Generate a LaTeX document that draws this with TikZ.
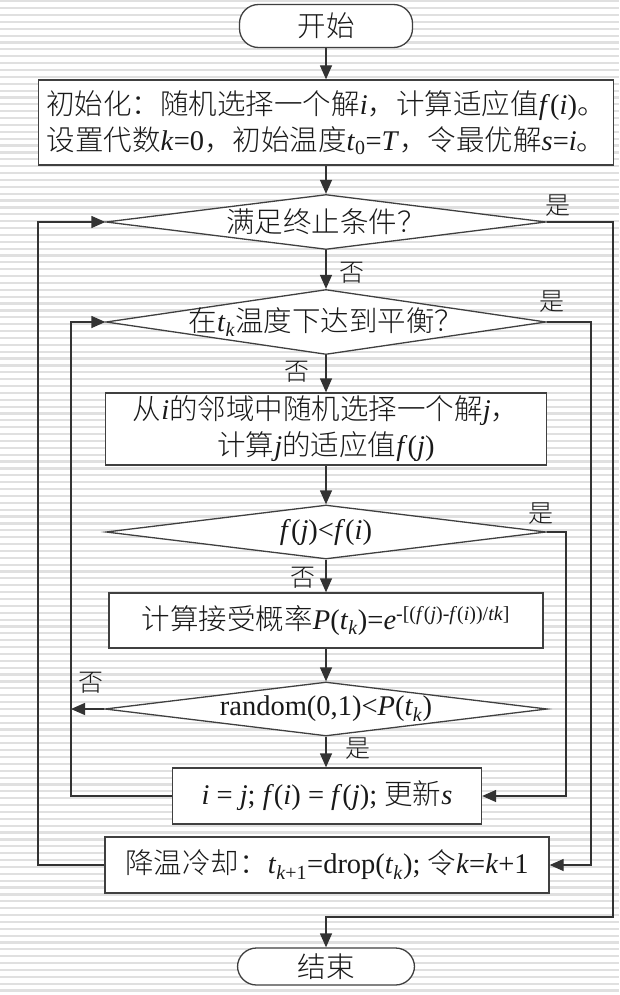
\documentclass[tikz,border=0pt]{standalone}
\usepackage{fontspec}
\setmainfont{Liberation Serif}
\newfontfamily\zhfont{Noto Sans CJK SC}[UprightFont=* Light]
\newcommand{\zh}[1]{{\zhfont #1}}
\newcommand{\vi}[1]{\textit{#1}}
\usetikzlibrary{shapes.geometric,arrows.meta,calc}
\begin{document}
\begin{tikzpicture}[x=1pt,y=-1pt,
  line/.style={draw=black!80, line width=1.3pt},
  arr/.style={line, -{Triangle[length=14pt,width=12pt]}},
  box/.style={draw=black!75, line width=1.3pt, fill=white, inner sep=0pt, align=center,
              text=black!90, font=\fontsize{28.5}{36}\selectfont},
  term/.style={box, rounded corners=19pt},
  dia/.style={draw=black!75, line width=1.3pt, fill=white, diamond, inner sep=0pt},
  txt/.style={inner sep=0pt, align=center, text=black!90, font=\fontsize{28.5}{36}\selectfont},
  lbl/.style={inner sep=0pt, text=black!90, font=\fontsize{25}{25}\selectfont\zhfont},
]
\useasboundingbox (0,0) rectangle (619,995);
\fill[white] (0,0) rectangle (619,995);
\foreach \k in {0,...,145} \fill[black!12] (0,{\k*6.87+0.2}) rectangle (619,{\k*6.87+2.4});

% coordinates for connector columns
\coordinate (xL1) at (38,0);
\coordinate (xL2) at (71,0);
\coordinate (xR1) at (613,0);
\coordinate (xR2) at (591,0);
\coordinate (xR3) at (566,0);
\coordinate (yE) at (0,917);

% nodes
\node[term, minimum width=173pt, minimum height=43pt] (start) at (326,26) {\zh{开始}};
\node[box, minimum width=575pt, minimum height=85pt] (init) at (326,122.5)
  {\zh{初始化：随机选择一个解}\vi{i}\zh{，计算适应值}\vi{f}(\vi{i})\zh{。}\\
   \zh{设置代数}\vi{k}=0\zh{，初始温度}\vi{t}\textsubscript{0}=\vi{T}\zh{，令最优解}\vi{s}=\vi{i}\zh{。}};

\node[dia, minimum width=440pt, minimum height=55pt] (d1) at (326,222) {};
\node[txt] (t1) at (d1) {\zh{满足终止条件？}};

\node[dia, minimum width=440pt, minimum height=65pt] (d2) at (326,322) {};
\node[txt] (t2) at (d2) {\zh{在}\vi{t}\textsubscript{\vi{k}}\zh{温度下达到平衡？}};

\node[box, minimum width=441pt, minimum height=72pt] (box3) at (326,429)
  {\zh{从}\vi{i}\zh{的邻域中随机选择一个解}\vi{j}\zh{，}\\
   \zh{计算}\vi{j}\zh{的适应值}\vi{f}(\vi{j})};

\node[dia, minimum width=440pt, minimum height=54pt] (d3) at (326,532) {};
\node[txt] (t3) at (d3) {\vi{f}(\vi{j})<\vi{f}(\vi{i})};

\node[box, minimum width=434pt, minimum height=55pt] (box4) at (326,620.5)
  {\zh{计算接受概率}\vi{P}(\vi{t}\textsubscript{\vi{k}})=\vi{e}\textsuperscript{-[(\vi{f}(\vi{j})-\vi{f}(\vi{i}))/\vi{tk}]}};

\node[dia, minimum width=442pt, minimum height=54pt] (d4) at (326,709) {};
\node[txt] (t4) at (d4) {random(0,1)<\vi{P}(\vi{t}\textsubscript{\vi{k}})};

\node[box, minimum width=309pt, minimum height=56pt] (upd) at (327,796)
  {\vi{i} = \vi{j}; \vi{f}(\vi{i}) = \vi{f}(\vi{j}); \zh{更新}\vi{s}};

\node[box, minimum width=444pt, minimum height=56pt] (drop) at (327,865)
  {\zh{降温冷却：}\vi{t}\textsubscript{\vi{k}+1}=drop(\vi{t}\textsubscript{\vi{k}}); \zh{令}\vi{k}=\vi{k}+1};

\node[term, minimum width=177pt, minimum height=37pt] (end) at (326,966.5) {\zh{结束}};

% main chain
\draw[arr] (start.south) -- (init.south |- start.south) -- (init.north);
\draw[arr] (init.south) -- (d1.north);
\draw[arr] (d1.south) -- (d2.north);
\draw[arr] (d2.south) -- (box3.north);
\draw[arr] (box3.south) -- (d3.north);
\draw[arr] (d3.south) -- (box4.north);
\draw[arr] (box4.south) -- (d4.north);
\draw[arr] (d4.south) -- (d4.south |- upd.north);

% loops
\draw[arr] (d1.east) -- (d1.east -| xR1) -- (yE -| xR1) -- (yE -| end.north) -- (end.north);
\draw[arr] (d2.east) -- (d2.east -| xR2) -- (drop.east -| xR2) -- (drop.east);
\draw[arr] (d3.east) -- (d3.east -| xR3) -- (upd.east -| xR3) -- (upd.east);
\draw[arr] (drop.west) -- (drop.west -| xL1) -- (d1.west -| xL1) -- (d1.west);
\draw[arr] (upd.west) -- (upd.west -| xL2) -- (d2.west -| xL2) -- (d2.west);
\draw[arr] (d4.west) -- (d4.west -| xL2);

% labels
\node[lbl] (y1) at (558,206) {是};
\node[lbl] (n1) at (352,273) {否};
\node[lbl] (y2) at (552,302) {是};
\node[lbl] (n2) at (297,372) {否};
\node[lbl] (y3) at (541,514) {是};
\node[lbl] (n3) at (303,578) {否};
\node[lbl] (n4) at (91,683) {否};
\node[lbl] (y4) at (358,749) {是};
\end{tikzpicture}
\end{document}
